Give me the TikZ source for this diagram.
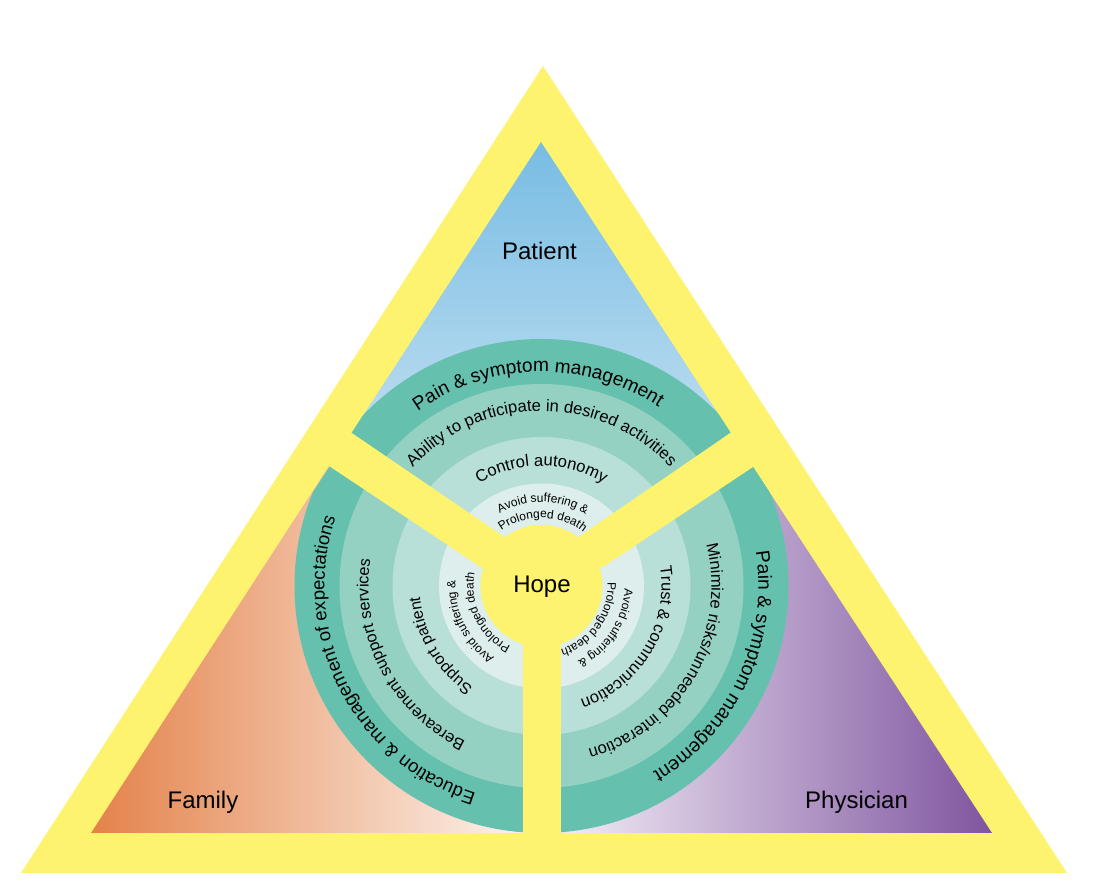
\documentclass[tikz,border=0pt]{standalone}
\usepackage{fontspec}
\setmainfont{Liberation Sans}
\usetikzlibrary{decorations.text}
\definecolor{frameyellow}{HTML}{FDF36E}
\definecolor{ringa}{HTML}{65C1AE}
\definecolor{ringb}{HTML}{94D1C3}
\definecolor{ringc}{HTML}{B8E0D9}
\definecolor{ringd}{HTML}{DDEEEC}
\definecolor{patienttop}{RGB}{120,188,227}
\definecolor{patientbot}{RGB}{222,238,247}
\definecolor{familyl}{RGB}{228,130,74}
\definecolor{familyr}{RGB}{252,243,237}
\definecolor{physl}{RGB}{242,236,246}
\definecolor{physr}{RGB}{127,85,159}
\newcommand{\ringtext}[5]{%
  \def\ringfont{\fontsize{#4}{#4}\selectfont}%
  \path[decorate,decoration={text along path,text align=center,
    text={|\ringfont|#5}}]
    ({541.5+#1*cos(#2+#3)},{308+#1*sin(#2+#3)})
    arc[start angle={#2+#3},end angle={#2-#3},radius=#1];}
\tikzset{
  yellowfill/.style={fill=frameyellow,draw=none},
  wheel/.style={fill=#1,draw=none},
  bigtext/.style={font=\fontsize{24}{28}\selectfont,text=black,inner sep=0pt}
}
\begin{document}
\begin{tikzpicture}[x=1pt,y=1pt]
\useasboundingbox (0,0) rectangle (1104,894);
\fill[white] (0,0) rectangle (1104,894);
% frame
\path[yellowfill] (543,828) -- (21,21) -- (1067,21) -- cycle;
% three coloured fields
\path[top color=patienttop,bottom color=patientbot]
  (541,752) -- (351.7,461) -- (541.5,308) -- (730.7,461) -- cycle;
\path[left color=familyl,right color=familyr]
  (91,61) -- (523,61) -- (523,308) -- (329,428) -- cycle;
\path[left color=physl,right color=physr]
  (561,61) -- (992,61) -- (753,427) -- (561,308) -- cycle;
% wheel, cut off by the inner triangle
\begin{scope}
\clip (541,752) -- (91,61) -- (992,61) -- cycle;
\path[wheel=ringa] (541.5,308) circle[radius=247];
\path[wheel=ringb] (541.5,308) circle[radius=202];
\path[wheel=ringc] (541.5,308) circle[radius=149];
\path[wheel=ringd] (541.5,308) circle[radius=102.5];
\end{scope}
% spokes
\path[yellowfill] (343,467) -- (503,358) -- (541.5,308) -- (482,326) -- (320,434) -- cycle;
\path[yellowfill] (739,467) -- (580,358) -- (541.5,308) -- (603,327) -- (762,433) -- cycle;
\path[yellowfill] (523,55) rectangle (561,308);
\path[yellowfill] (541.5,308) circle[radius=61];
% ring texts, top sector
\ringtext{214}{91}{80}{19.1}{Pain {\&} symptom management}
\ringtext{175}{90}{80}{16.6}{Ability to participate in desired activities}
\ringtext{120}{90}{80}{16.6}{Control autonomy}
\ringtext{84}{89}{70}{12}{Avoid suffering {\&}}
\ringtext{68}{89}{70}{12}{Prolonged death}
% left sector
\ringtext{217}{207}{80}{18.6}{Education {\&} management of expectations}
\ringtext{173}{207.5}{80}{16.3}{Bereavement support services}
\ringtext{122}{210.5}{80}{16}{Support patient}
\ringtext{86}{206.5}{70}{12}{Avoid suffering {\&}}
\ringtext{68}{206}{70}{12}{Prolonged death}
% right sector
\ringtext{217}{-25}{80}{19.3}{Pain {\&} symptom management}
\ringtext{170}{-30}{80}{16.5}{Minimize risks/unneeded interaction}
\ringtext{120}{-31}{80}{16.5}{Trust {\&} communication}
\ringtext{83}{-33}{70}{12}{Avoid suffering {\&}}
\ringtext{66}{-35}{70}{12}{Prolonged death}
% labels
\node[bigtext] (patient) at (539.5,643) {Patient};
\node[bigtext] (family) at (203,92) {Family};
\node[bigtext] (physician) at (856.5,92) {Physician};
\node[bigtext] (hope) at (542,307) {Hope};
\end{tikzpicture}
\end{document}
